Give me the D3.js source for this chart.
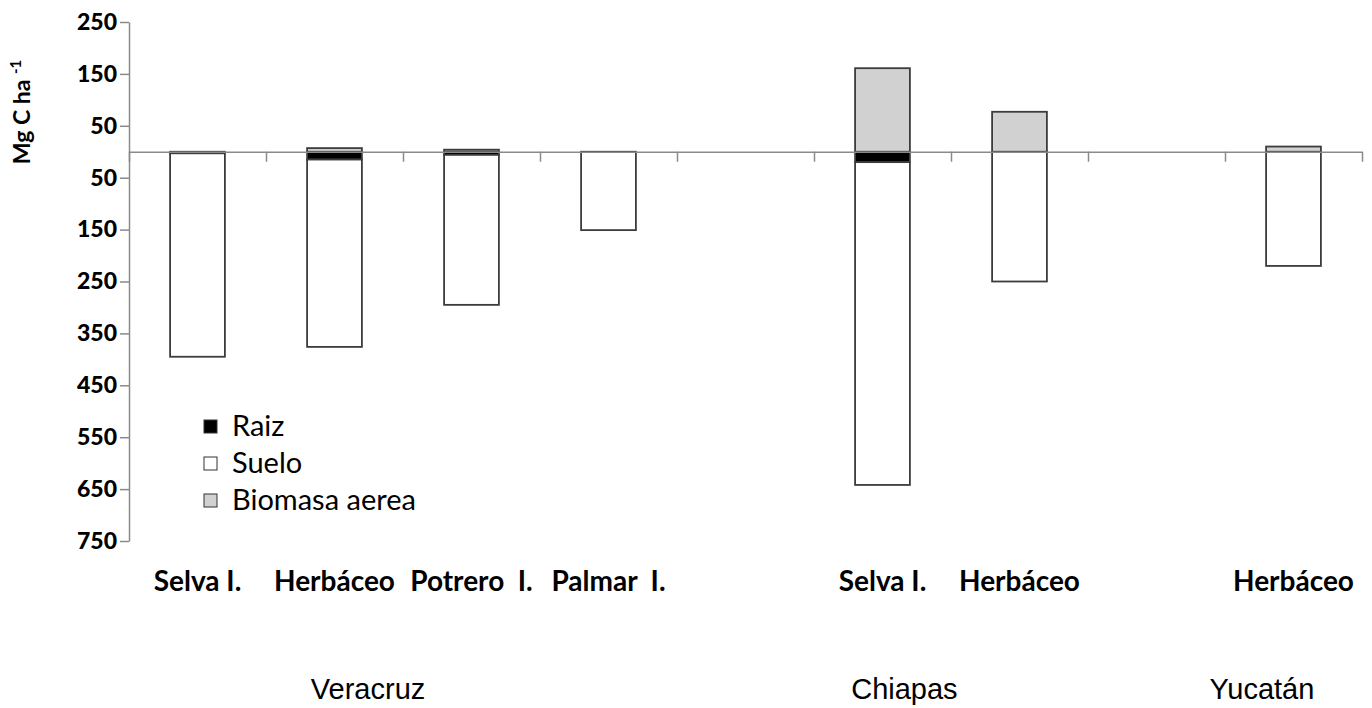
<!DOCTYPE html>
<html>
<head>
<meta charset="utf-8">
<script src="https://cdn.jsdelivr.net/npm/d3@7"></script>
<style>
  body { margin: 0; background: #fff; }
  svg { display: block; }
</style>
</head>
<body>
<div id="chart"></div>
<script>
// data (Mg C ha-1), soil and roots below zero
const categories = ["Selva I.", "Herbáceo", "Potrero\u00a0\u00a0I.", "Palmar\u00a0\u00a0I.", "", "Selva I.", "Herbáceo", "", "Herbáceo"];
const raiz    = [3, 15, 6, 0, 0, 20, 0, 0, 0];
const suelo   = [392, 361, 289, 151, 0, 622, 250, 0, 220];
const biomasa = [0, 7, 4, 0, 0, 161, 77, 0, 10];
const yTicks = [250, 150, 50, -50, -150, -250, -350, -450, -550, -650, -750];
const groups = ["Veracruz", "Chiapas", "Yucatán"];
const groupPos = [1.745, 5.66, 8.27]; // in category slots
const legendKeys = ["Raiz", "Suelo", "Biomasa aerea"];
const colors = { raiz: "#000000", suelo: "#ffffff", biomasa: "#d0d1d0" };

const width = 1372, height = 708;
const plotLeft = 129, plotRight = 1362, plotTop = 22, plotBottom = 541;

const svg = d3.select("#chart").append("svg")
  .attr("width", width)
  .attr("height", height);

const rows = categories.map((c, i) => ({
  i: i,
  raiz: -raiz[i],
  suelo: -suelo[i],
  biomasa: biomasa[i]
}));

const x = d3.scaleBand()
  .domain(d3.range(categories.length))
  .range([plotLeft, plotRight])
  .paddingInner(0.6)
  .paddingOuter(0.3);

const slot = d3.scaleLinear()
  .domain([0, categories.length])
  .range([plotLeft, plotRight]);

const y = d3.scaleLinear()
  .domain([-750, 250])
  .range([plotBottom, plotTop]);

const stack = d3.stack()
  .keys(["raiz", "suelo", "biomasa"])
  .offset(d3.stackOffsetDiverging);
const series = stack(rows);

// bars
svg.append("g")
  .selectAll("g")
  .data(series)
  .join("g")
  .attr("fill", d => colors[d.key])
  .selectAll("rect")
  .data(d => d.filter(v => v[1] - v[0] !== 0))
  .join("rect")
  .attr("x", d => x(d.data.i))
  .attr("y", d => y(d[1]))
  .attr("width", x.bandwidth())
  .attr("height", d => y(d[0]) - y(d[1]))
  .attr("stroke", "#3c3c3c")
  .attr("stroke-width", 1.8);

// y axis
const yAxis = svg.append("g")
  .attr("transform", `translate(${plotLeft},0)`)
  .call(d3.axisLeft(y).tickValues(yTicks).tickFormat(d => Math.abs(d)).tickSize(9).tickSizeOuter(0).tickPadding(3));
yAxis.select(".domain").attr("stroke", "#8a8a8a").attr("stroke-width", 1.5);
yAxis.selectAll(".tick line").attr("stroke", "#8a8a8a").attr("stroke-width", 1.5);
yAxis.selectAll(".tick text")
  .attr("fill", "#000")
  .style("font-family", "Lato, 'Open Sans', sans-serif")
  .style("font-weight", "900")
  .style("font-size", "23px");

// zero line with slot ticks
const xAxis = svg.append("g")
  .attr("transform", `translate(0,${y(0)})`)
  .call(d3.axisBottom(slot).tickValues(d3.range(categories.length + 1)).tickFormat("").tickSize(10).tickSizeOuter(0));
xAxis.select(".domain").attr("stroke", "#8a8a8a").attr("stroke-width", 1.5);
xAxis.selectAll(".tick line").attr("stroke", "#8a8a8a").attr("stroke-width", 1.5);

// category labels
svg.append("g")
  .selectAll("text")
  .data(categories)
  .join("text")
  .attr("x", (d, i) => x(i) + x.bandwidth() / 2)
  .attr("y", 591)
  .attr("text-anchor", "middle")
  .style("font-family", "Lato, 'Open Sans', sans-serif")
  .style("font-weight", "bold")
  .style("font-size", "28px")
  .text(d => d);

// state labels
svg.append("g")
  .selectAll("text")
  .data(groups)
  .join("text")
  .attr("x", (d, i) => slot(groupPos[i]))
  .attr("y", 699)
  .attr("text-anchor", "middle")
  .style("font-family", "'Liberation Sans', Arial, sans-serif")
  .style("font-size", "29px")
  .text(d => d);

// y title
const yTitle = svg.append("text")
  .attr("transform", "translate(30,112) rotate(-90)")
  .attr("text-anchor", "middle")
  .style("font-family", "Lato, 'Open Sans', sans-serif")
  .style("font-weight", "bold")
  .style("font-size", "23px");
yTitle.append("tspan").text("Mg C ha ");
yTitle.append("tspan").attr("dy", -9).style("font-size", "15px").text("-1");

// legend
const legend = svg.append("g")
  .attr("transform", "translate(204,420)");
const legendFill = [colors.raiz, colors.suelo, colors.biomasa];
const li = legend.selectAll("g")
  .data(legendKeys)
  .join("g")
  .attr("transform", (d, i) => `translate(0,${i * 37})`);
li.append("rect")
  .attr("width", 13)
  .attr("height", 13)
  .attr("y", 0)
  .attr("fill", (d, i) => legendFill[i])
  .attr("stroke", "#333")
  .attr("stroke-width", 1);
li.append("text")
  .attr("x", 28)
  .attr("y", 16)
  .style("font-family", "Lato, 'Open Sans', sans-serif")
  .style("font-size", "29px")
  .text(d => d);
</script>
</body>
</html>
